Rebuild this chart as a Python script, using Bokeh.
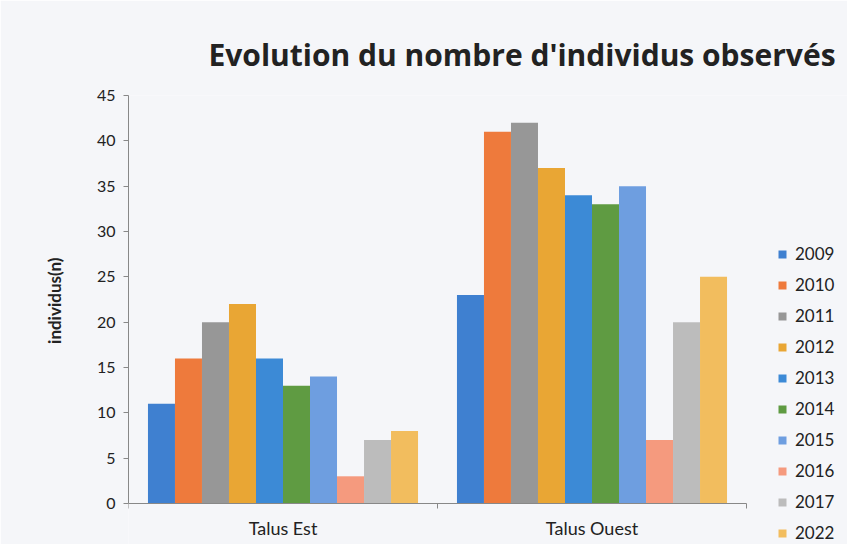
from bokeh.plotting import figure
from bokeh.models import ColumnDataSource, Legend, LegendItem, Title, Range1d, FixedTicker
from bokeh.transform import dodge
from bokeh.embed import file_html
from bokeh.resources import INLINE

categories = ["Talus Est", "Talus Ouest"]
years = ["2009", "2010", "2011", "2012", "2013", "2014", "2015", "2016", "2017", "2022"]
values_2009 = [11, 23]
values_2010 = [16, 41]
values_2011 = [20, 42]
values_2012 = [22, 37]
values_2013 = [16, 34]
values_2014 = [13, 33]
values_2015 = [14, 35]
values_2016 = [3, 7]
values_2017 = [7, 20]
values_2022 = [8, 25]
series = [values_2009, values_2010, values_2011, values_2012, values_2013,
          values_2014, values_2015, values_2016, values_2017, values_2022]
colors = ["#3f80d0", "#ee7a3c", "#979797", "#e9a634", "#3c8ad6",
          "#5f9b42", "#6e9ee0", "#f59a7e", "#bcbcbc", "#f2bd5e"]
yticks = [0, 5, 10, 15, 20, 25, 30, 35, 40, 45]

FONT = "Lato"
BG = "#f5f6f9"
TXT = "#222222"
AX = "#888888"

n = len(categories)
xpos = [i + 0.5 for i in range(n)]
data = {"x": xpos}
for y, s in zip(years, series):
    data["y" + y] = s
source = ColumnDataSource(data)

# frame: left 128, top 95, extends to right/bottom edges (legend lives inside)
px_per_cat = 309.0
px_per_unit = 408.0 / 45.0
x_end = (847 - 128) / px_per_cat
y_start = -(544 - 503) / px_per_unit

p = figure(width=847, height=544, output_backend="svg", toolbar_location=None,
           x_range=Range1d(0, x_end), y_range=Range1d(y_start, 45),
           min_border_left=128, min_border_right=0, min_border_top=95, min_border_bottom=0)
p.background_fill_color = BG
p.border_fill_color = BG
p.outline_line_color = None
p.xgrid.grid_line_color = None
p.ygrid.grid_line_color = None

bw = 0.0874
items = []
for i, (y, c) in enumerate(zip(years, colors)):
    off = (i - 4.5) * bw
    r = p.vbar(x=dodge("x", off), top="y" + y, width=bw,
               source=source, fill_color=c, line_color=None)
    items.append(LegendItem(label=y, renderers=[r]))

legend = Legend(items=items, location=(649, 1), orientation="vertical",
                label_text_font=FONT, label_text_font_size="17px", label_text_color=TXT,
                glyph_width=10, glyph_height=10, label_height=21, spacing=10,
                padding=0, margin=0, background_fill_alpha=0, border_line_color=None,
                label_standoff=8)
p.add_layout(legend, "center")

p.title = Title(text="Evolution du nombre d'individus observés", text_font="Open Sans",
                text_font_size="30px", text_font_style="bold", text_color=TXT,
                align="left", offset=80, standoff=41)

# y-axis title, placed to match the axis extent (frame extends below the axis)
ytitle = Title(text="individus(n)", text_font=FONT, text_font_size="17px",
               text_font_style="bold", text_color=TXT, align="right", offset=162,
               standoff=58)
p.add_layout(ytitle, "left")

p.yaxis.ticker = yticks
p.yaxis.bounds = (0, 45)
p.yaxis.axis_line_color = AX
p.yaxis.major_tick_line_color = AX
p.yaxis.major_tick_out = 5
p.yaxis.major_tick_in = 0
p.yaxis.minor_tick_line_color = None
p.yaxis.major_label_text_font = FONT
p.yaxis.major_label_text_font_size = "16px"
p.yaxis.major_label_text_color = TXT
p.yaxis.major_label_standoff = 8

p.xaxis.fixed_location = 0
p.xaxis.bounds = (0, n)
p.xaxis.ticker = FixedTicker(ticks=xpos, minor_ticks=list(range(n + 1)))
p.xaxis.major_label_overrides = {x: c for x, c in zip(xpos, categories)}
p.xaxis.axis_line_color = AX
p.xaxis.major_tick_line_color = None
p.xaxis.major_tick_out = 0
p.xaxis.major_tick_in = 0
p.xaxis.minor_tick_line_color = AX
p.xaxis.minor_tick_out = 5
p.xaxis.minor_tick_in = 0
p.xaxis.major_label_text_font = FONT
p.xaxis.major_label_text_font_size = "18px"
p.xaxis.major_label_text_color = TXT
p.xaxis.major_label_standoff = 8

open("out.html", "w").write(file_html(p, INLINE))
